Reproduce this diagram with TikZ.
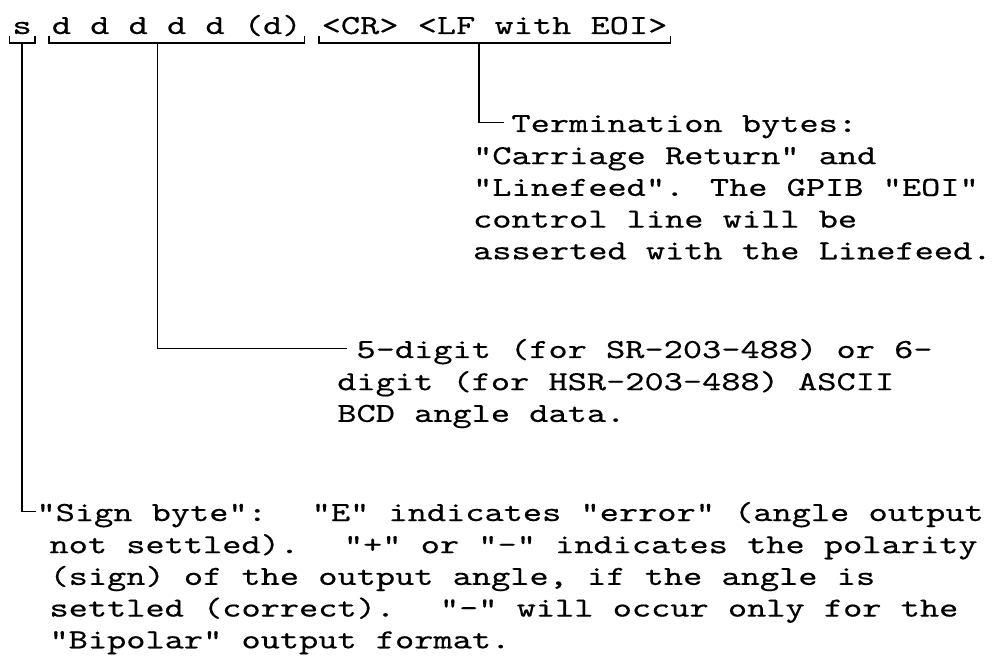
\documentclass[tikz,border=0pt]{standalone}
\usepackage{fontspec}
\newfontfamily\typewriter[FakeStretch=1.33, FakeBold=0.4]{lmmono10-regular.otf}
\usetikzlibrary{positioning, calc}
\lineskiplimit=-100pt

\begin{document}
\begin{tikzpicture}[x=0.4pt, y=-0.4pt]
	\tikzset{
		every node/.style={font=\typewriter\fontsize{11}{12.68}\selectfont, inner sep=0pt},
		head/.style={anchor=base west, text height=9pt, text depth=1.4pt},
		body/.style={anchor=north west, align=left},
		brace/.style={draw, line width=0.7pt},
		lead/.style={draw, line width=0.7pt}
	}
	\useasboundingbox (0,0) rectangle (998,657);
	
	% Output string
	\node[head] (sgn) at (12,34) {s};
	\node[head, base right=7.68pt of sgn] (dgt) {d d d d d (d)};
	\node[head, base right=7.68pt of dgt] (trm) {<CR> <LF with EOI>};
	
	% Brackets under the groups
	\foreach \grp in {sgn, dgt, trm}
		\draw[brace] ([xshift=-1pt, yshift=-0.8pt]\grp.base west) |- ([xshift=1pt, yshift=-3.6pt]\grp.base east) -- ([xshift=1pt, yshift=-0.8pt]\grp.base east);
	
	% Where the leaders leave the brackets
	\coordinate (sgnDrop) at ([yshift=-3.6pt]sgn.base);
	\coordinate (dgtDrop) at ($(dgt.base west)!0.423!(dgt.base east)+(0,-3.6pt)$);
	\coordinate (trmDrop) at ($(trm.base west)!0.456!(trm.base east)+(0,-3.6pt)$);
	
	% Termination bytes
	\node[head] (trmHead) at (511,132) {Termination bytes:};
	\node[body] (trmBody) at ([xshift=-15.36pt, yshift=-3.8pt]trmHead.base west) {\strut\smash{"Carriage Return" and}\\"Linefeed". The GPIB "EOI"\\control line will be\\asserted with the Linefeed.};
	
	% Angle data
	\node[head] (dgtHead) at (356,358) {5-digit (for SR-203-488) or 6-};
	\node[body] (dgtBody) at ([xshift=-7.68pt, yshift=-3.8pt]dgtHead.base west) {\strut\smash{digit (for HSR-203-488) ASCII}\\BCD angle data.};
	
	% Sign byte
	\node[head] (sgnHead) at (36,521) {"Sign byte":~ "E" indicates "error" (angle output};
	\node[body] (sgnBody) at ([xshift=5.2pt, yshift=-3.8pt]sgnHead.base west) {\strut\smash{not settled).~ "+" or "-" indicates the polarity}\\(sign) of the output angle, if the angle is\\settled (correct).~ "-" will occur only for the\\"Bipolar" output format.};
	
	% Leaders
	\draw[lead] (sgnDrop) |- (sgnHead.west);
	\draw[lead, shorten >=3.6pt] (dgtDrop) |- (dgtHead.west);
	\draw[lead, shorten >=2.8pt] (trmDrop) |- (trmHead.west);
	
\end{tikzpicture}
\end{document}
